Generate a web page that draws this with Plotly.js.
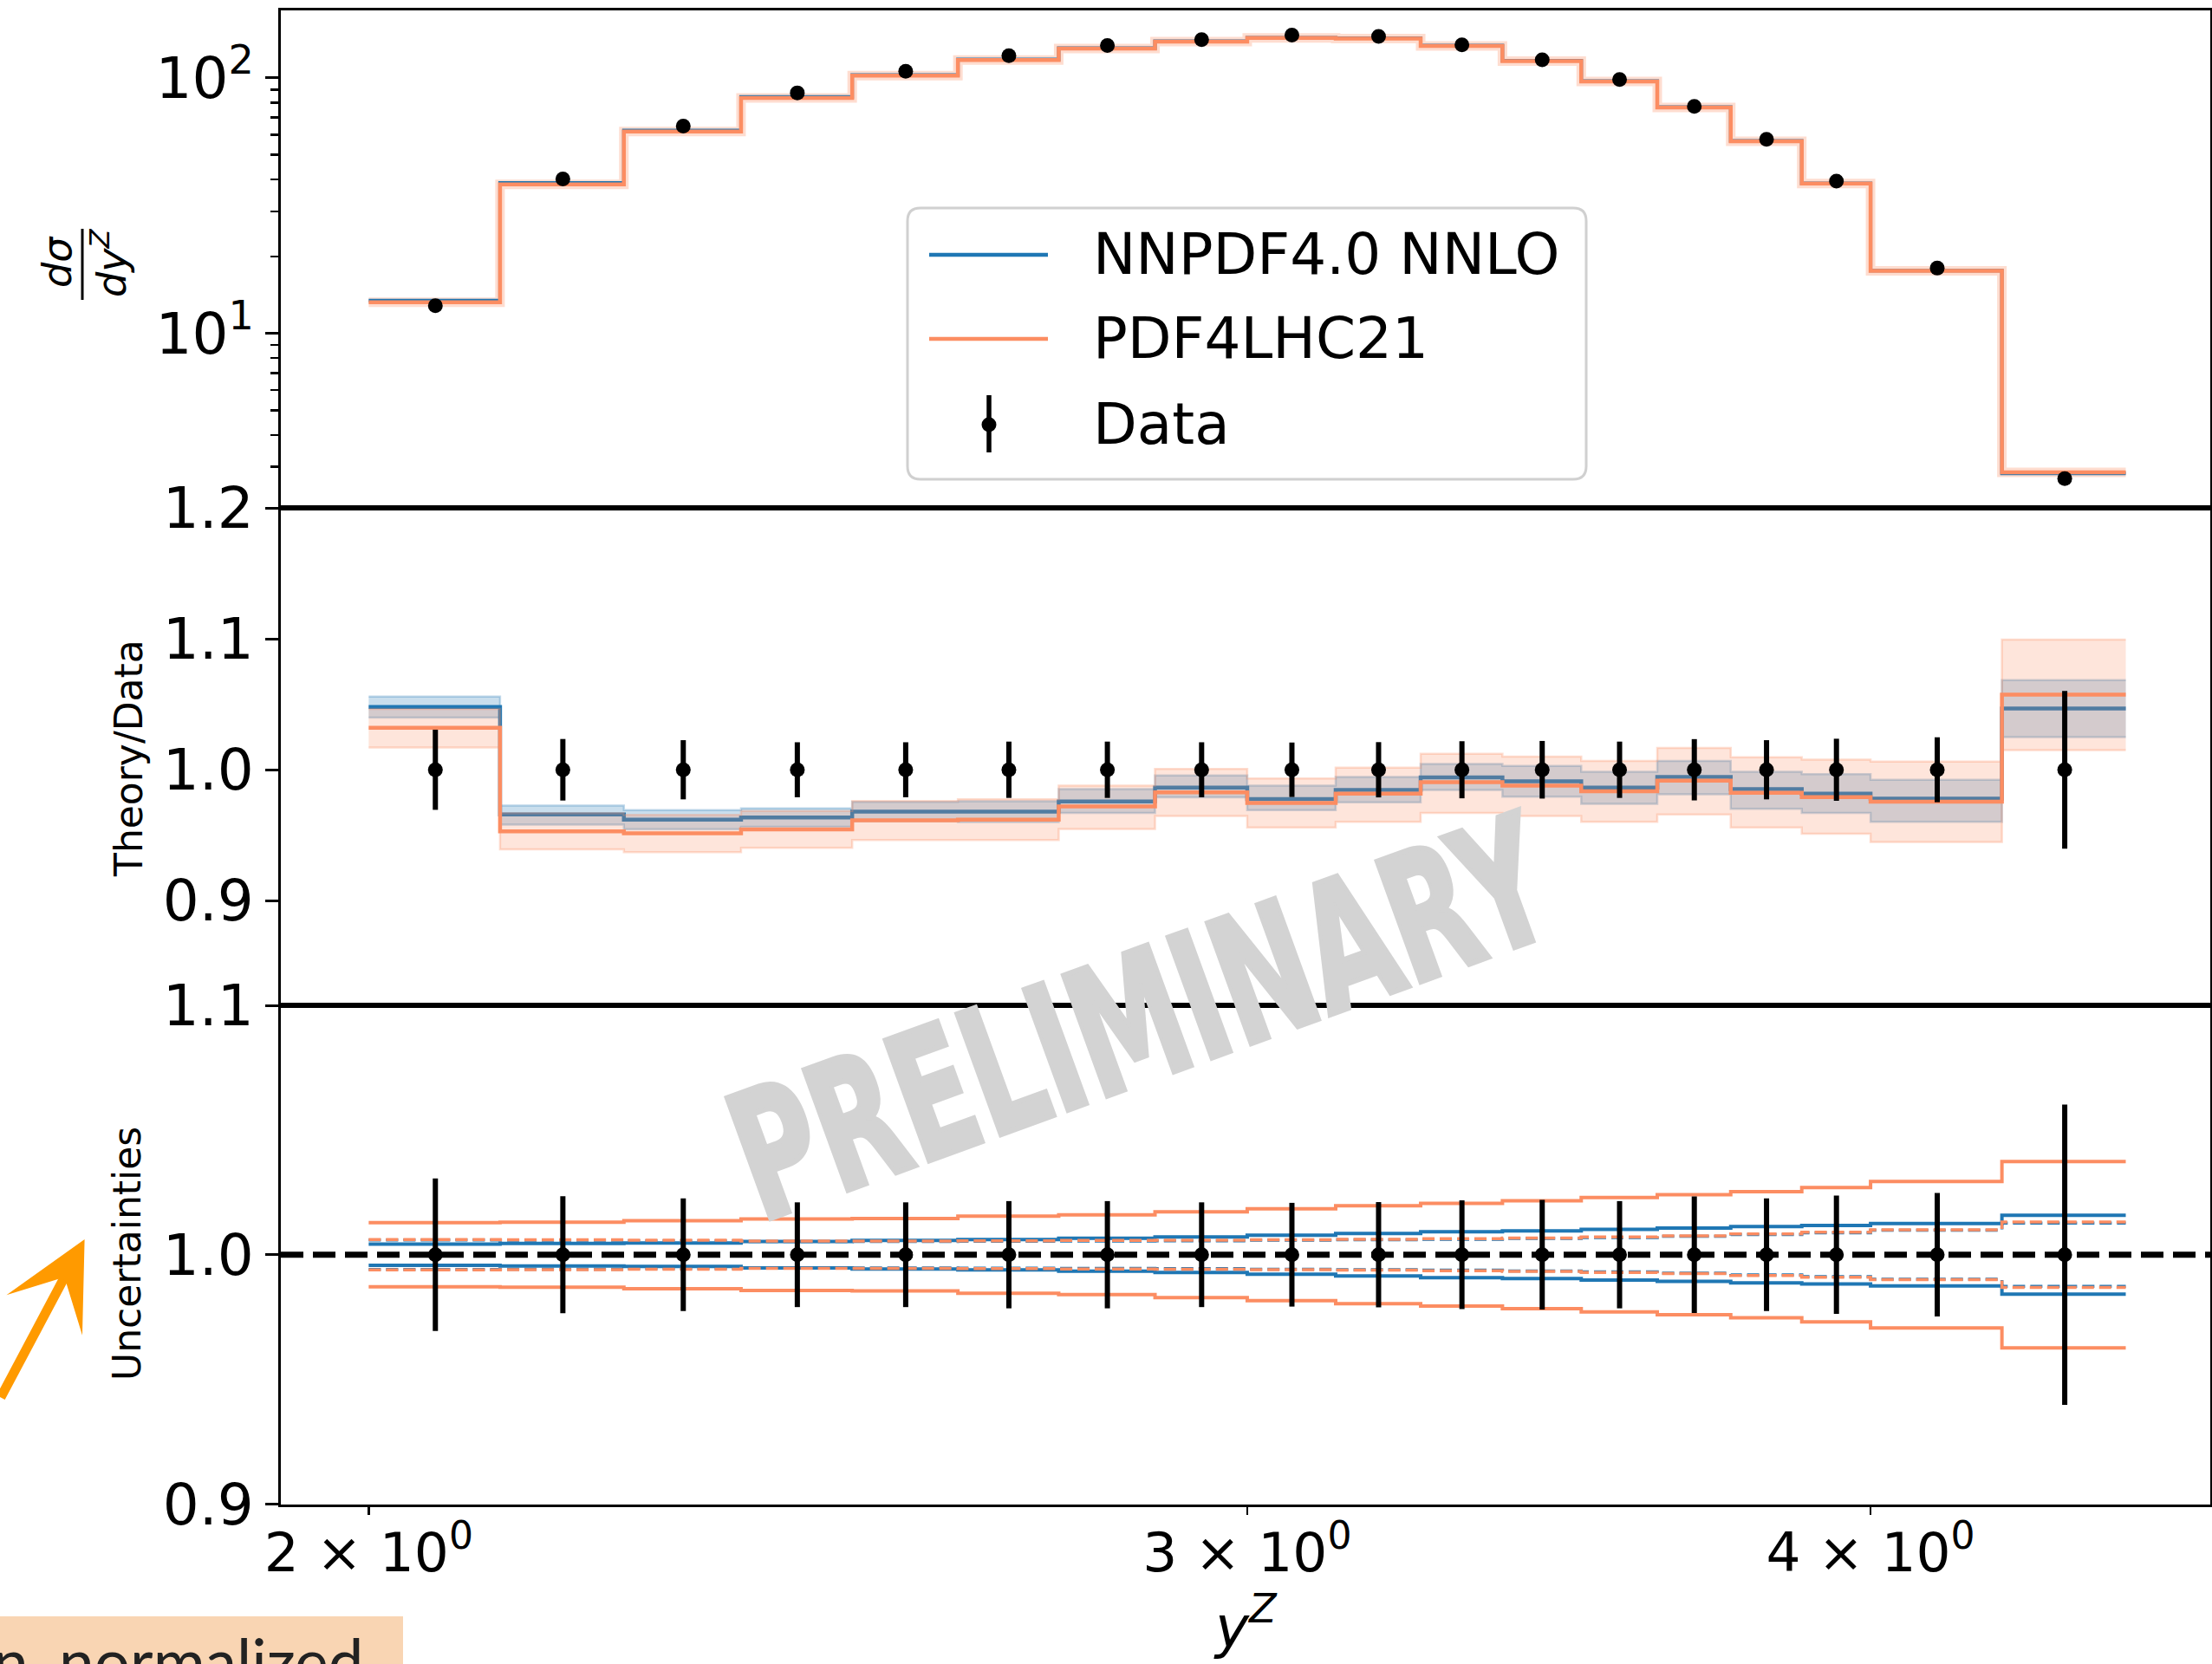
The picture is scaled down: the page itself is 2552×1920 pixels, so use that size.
<!DOCTYPE html>
<html>
<head>
<meta charset="utf-8">
<script src="https://cdn.plot.ly/plotly-3.0.1.min.js"></script>
<style>
  html, body { margin: 0; padding: 0; background: #fff; }
  #chart { width: 2552px; height: 1920px; }
</style>
</head>
<body>
<div id="chart"></div>
<script>
// ---------------- data ----------------
const binEdges   = [2.0, 2.125, 2.25, 2.375, 2.5, 2.625, 2.75, 2.875, 3.0, 3.125, 3.25, 3.375, 3.5, 3.625, 3.75, 3.875, 4.0, 4.25, 4.5];
const binCenters = [2.0625, 2.1875, 2.3125, 2.4375, 2.5625, 2.6875, 2.8125, 2.9375, 3.0625, 3.1875, 3.3125, 3.4375, 3.5625, 3.6875, 3.8125, 3.9375, 4.125, 4.375];

// top panel: dsigma/dy^Z
const dataXsec    = [12.82, 40.2, 64.8, 87.4, 106.1, 122.1, 134.0, 141.1, 147.0, 145.3, 134.8, 117.8, 98.5, 77.3, 57.5, 39.4, 18.0, 2.70];
const nnpdfXsec   = [13.43, 38.83, 62.33, 84.22, 102.7, 118.2, 130.8, 139.2, 143.7, 143.1, 134.0, 116.8, 97.16, 76.87, 56.65, 38.68, 17.60, 2.826];
const pdf4lhcXsec = [13.23, 38.31, 61.66, 83.41, 102.0, 117.4, 130.2, 138.7, 143.3, 142.6, 133.5, 116.4, 96.87, 76.66, 56.49, 38.58, 17.56, 2.855];

// middle panel: Theory/Data
const dataRatio  = [1, 1, 1, 1, 1, 1, 1, 1, 1, 1, 1, 1, 1, 1, 1, 1, 1, 1];
const dataRelErr = [0.0306, 0.0235, 0.0226, 0.0210, 0.0210, 0.0215, 0.0215, 0.0210, 0.0208, 0.0211, 0.0218, 0.0220, 0.0215, 0.0234, 0.0226, 0.0237, 0.0248, 0.0602];
const nnpdfRatio    = [1.0479, 0.9658, 0.9619, 0.9636, 0.9680, 0.9680, 0.9758, 0.9864, 0.9777, 0.9846, 0.9941, 0.9912, 0.9864, 0.9945, 0.9852, 0.9817, 0.9780, 1.0468];
const nnpdfRatioLo  = [1.0398, 0.9581, 0.9546, 0.9565, 0.9605, 0.9600, 0.9670, 0.9790, 0.9691, 0.9751, 0.9846, 0.9795, 0.9740, 0.9813, 0.9702, 0.9670, 0.9603, 1.0250];
const nnpdfRatioHi  = [1.0559, 0.9726, 0.9691, 0.9705, 0.9755, 0.9760, 0.9852, 0.9956, 0.9879, 0.9945, 1.0044, 1.0029, 0.9985, 1.0067, 0.9985, 0.9967, 0.9923, 1.0685];
const pdf4lhcRatio   = [1.0321, 0.9530, 0.9515, 0.9544, 0.9614, 0.9619, 0.9720, 0.9828, 0.9746, 0.9817, 0.9905, 0.9879, 0.9835, 0.9917, 0.9824, 0.9791, 0.9756, 1.0574];
const pdf4lhcRatioLo = [1.0170, 0.9393, 0.9371, 0.9404, 0.9464, 0.9464, 0.9548, 0.9647, 0.9559, 0.9603, 0.9670, 0.9647, 0.9603, 0.9658, 0.9559, 0.9511, 0.9449, 1.0150];
const pdf4lhcRatioHi = [1.0464, 0.9669, 0.9655, 0.9686, 0.9762, 0.9775, 0.9879, 1.0007, 0.9934, 1.0016, 1.0122, 1.0100, 1.0067, 1.0166, 1.0095, 1.0078, 1.0062, 1.0994];

// bottom panel: relative uncertainties
const nnpdfUnc       = [0.0043, 0.0045, 0.0047, 0.0053, 0.0057, 0.0061, 0.0066, 0.0071, 0.0078, 0.0085, 0.0092, 0.0096, 0.0102, 0.0107, 0.0113, 0.0117, 0.0125, 0.0158];
const pdf4lhcUnc     = [0.0129, 0.0130, 0.0136, 0.0143, 0.0145, 0.0155, 0.0160, 0.0172, 0.0184, 0.0196, 0.0206, 0.0216, 0.0229, 0.0241, 0.0253, 0.0269, 0.0294, 0.0374];
const pdf4lhcDashUnc = [0.0061, 0.0060, 0.0058, 0.0055, 0.0055, 0.0056, 0.0057, 0.0058, 0.0060, 0.0062, 0.0064, 0.0067, 0.0071, 0.0076, 0.0083, 0.0090, 0.0100, 0.0131];
const nnpdfDashUnc   = [0.0059, 0.0058, 0.0056, 0.0053, 0.0053, 0.0054, 0.0055, 0.0056, 0.0058, 0.0060, 0.0062, 0.0065, 0.0069, 0.0074, 0.0081, 0.0088, 0.0098, 0.0127];

// tick labels
const xTickVals = [2, 3, 4];
const xTickText = ['2 × 10<sup>0</sup>', '3 × 10<sup>0</sup>', '4 × 10<sup>0</sup>'];
const topTickVals = [10, 100];
const topTickText = ['10<sup>1</sup>', '10<sup>2</sup>'];
const topMinorVals = [3, 4, 5, 6, 7, 8, 9, 20, 30, 40, 50, 60, 70, 80, 90];
const midTickVals = [0.9, 1.0, 1.1, 1.2];
const botTickVals = [0.9, 1.0, 1.1];

const legendLabels = ['NNPDF4.0 NNLO', 'PDF4LHC21', 'Data'];

// ---------------- helpers ----------------
const W = 2552, H = 1920;
const px = x => x / W;
const py = y => 1 - y / H;
const stepY = arr => arr.concat([arr[arr.length - 1]]);
const BLUE = '#1f77b4', ORANGE = '#fc8d62';
const FONT = 'DejaVu Sans';

const plus = (arr) => arr.map(u => 1 + u);
const minus = (arr) => arr.map(u => 1 - u);

function stepLine(y, xa, ya, color, width, dash, extra) {
  return Object.assign({
    type: 'scatter', mode: 'lines', x: binEdges, y: stepY(y), xaxis: xa, yaxis: ya,
    line: {shape: 'hv', color: color, width: width, dash: dash || 'solid'},
    hoverinfo: 'skip', showlegend: false
  }, extra || {});
}

const traces = [];
// ---- top panel (x3, y3) ----
traces.push(stepLine(pdf4lhcXsec, 'x3', 'y3', 'rgba(252,141,98,0.30)', 11));
traces.push(stepLine(nnpdfXsec, 'x3', 'y3', BLUE, 4));
traces.push(stepLine(pdf4lhcXsec, 'x3', 'y3', ORANGE, 4.5));
traces.push({type: 'scatter', mode: 'markers', x: binCenters, y: dataXsec, xaxis: 'x3', yaxis: 'y3',
  marker: {color: '#000', size: 17}, hoverinfo: 'skip', showlegend: false});

// ---- middle panel (x2, y2) ----
traces.push(stepLine(nnpdfRatioLo, 'x2', 'y2', 'rgba(31,119,180,0.28)', 2.5));
traces.push(stepLine(nnpdfRatioHi, 'x2', 'y2', 'rgba(31,119,180,0.28)', 2.5, null, {fill: 'tonexty', fillcolor: 'rgba(31,119,180,0.24)'}));
traces.push(stepLine(nnpdfRatio, 'x2', 'y2', BLUE, 4.5));
traces.push(stepLine(pdf4lhcRatioLo, 'x2', 'y2', 'rgba(252,141,98,0.30)', 2.5));
traces.push(stepLine(pdf4lhcRatioHi, 'x2', 'y2', 'rgba(252,141,98,0.30)', 2.5, null, {fill: 'tonexty', fillcolor: 'rgba(252,141,98,0.23)'}));
traces.push(stepLine(pdf4lhcRatio, 'x2', 'y2', ORANGE, 4.5));
traces.push({type: 'scatter', mode: 'markers', x: binCenters, y: dataRatio, xaxis: 'x2', yaxis: 'y2',
  marker: {color: '#000', size: 17},
  error_y: {type: 'data', array: dataRelErr, visible: true, color: '#000', thickness: 6, width: 0},
  hoverinfo: 'skip', showlegend: false});

// ---- bottom panel (x, y) ----
traces.push(stepLine(plus(pdf4lhcUnc), 'x', 'y', ORANGE, 4));
traces.push(stepLine(minus(pdf4lhcUnc), 'x', 'y', ORANGE, 4));
traces.push(stepLine(plus(nnpdfUnc), 'x', 'y', BLUE, 4));
traces.push(stepLine(minus(nnpdfUnc), 'x', 'y', BLUE, 4));
traces.push(stepLine(plus(nnpdfDashUnc), 'x', 'y', BLUE, 3.5, '14px,6px'));
traces.push(stepLine(minus(nnpdfDashUnc), 'x', 'y', BLUE, 3.5, '14px,6px'));
traces.push(stepLine(plus(pdf4lhcDashUnc), 'x', 'y', ORANGE, 3.5, '14px,6px'));
traces.push(stepLine(minus(pdf4lhcDashUnc), 'x', 'y', ORANGE, 3.5, '14px,6px'));
traces.push({type: 'scatter', mode: 'markers', x: binCenters, y: dataRatio, xaxis: 'x', yaxis: 'y',
  marker: {color: '#000', size: 17},
  error_y: {type: 'data', array: dataRelErr, visible: true, color: '#000', thickness: 6, width: 0},
  hoverinfo: 'skip', showlegend: false});

// ---------------- layout ----------------
const frame = {showline: true, linecolor: '#000', linewidth: 3, mirror: true, showgrid: false, zeroline: false};
const tickFont = {family: FONT, size: 66, color: '#000'};
const xDomain = [px(324), px(2550)];
const xRange = [0.28342, 0.67015];

const layout = {
  width: W, height: H,
  margin: {l: 0, r: 0, t: 0, b: 0, pad: 0},
  paper_bgcolor: '#ffffff', plot_bgcolor: '#ffffff',
  showlegend: false,
  font: {family: FONT, color: '#000'},
  xaxis: Object.assign({}, frame, {type: 'log', range: xRange, domain: xDomain, anchor: 'y',
    tickmode: 'array', tickvals: xTickVals, ticktext: xTickText,
    ticks: 'outside', ticklen: 9, tickwidth: 2.5, tickcolor: '#000', ticklabelstandoff: -10,
    tickfont: {family: FONT, size: 63, color: '#000'}}),
  xaxis2: Object.assign({}, frame, {type: 'log', range: xRange, domain: xDomain, anchor: 'y2', matches: 'x',
    showticklabels: false, ticks: ''}),
  xaxis3: Object.assign({}, frame, {type: 'log', range: xRange, domain: xDomain, anchor: 'y3', matches: 'x',
    showticklabels: false, ticks: ''}),
  yaxis: Object.assign({}, frame, {domain: [py(1735.5), py(1160)], range: [0.9, 1.1], anchor: 'x',
    tickmode: 'array', tickvals: botTickVals, tickformat: '.1f',
    ticks: 'outside', ticklen: 15, tickwidth: 3, tickcolor: '#000', tickfont: tickFont}),
  yaxis2: Object.assign({}, frame, {domain: [py(1160), py(586)], range: [0.8201, 1.2], anchor: 'x2',
    tickmode: 'array', tickvals: midTickVals, tickformat: '.1f',
    ticks: 'outside', ticklen: 15, tickwidth: 3, tickcolor: '#000', tickfont: tickFont}),
  yaxis3: Object.assign({}, frame, {type: 'log', domain: [py(586), py(12)], range: [0.3166, 2.2643], anchor: 'x3',
    tickmode: 'array', tickvals: topTickVals, ticktext: topTickText,
    ticks: 'outside', ticklen: 15, tickwidth: 3, tickcolor: '#000', tickfont: tickFont,
    minor: {tickmode: 'array', tickvals: topMinorVals, ticks: 'outside', ticklen: 9, tickwidth: 2.5, tickcolor: '#000', showgrid: false}}),
  shapes: [],
  annotations: []
};

// dashed reference line at 1 in the uncertainty panel
layout.shapes.push({type: 'line', xref: 'paper', yref: 'y', x0: xDomain[0], x1: xDomain[1], y0: 1, y1: 1,
  line: {color: '#000', width: 7, dash: '26px,11px'}, layer: 'below'});

// ---- hand-drawn legend (matplotlib style) ----
function roundRect(x0, y0, x1, y1, r) {
  const X = v => px(v).toFixed(6), Y = v => py(v).toFixed(6);
  return 'M' + X(x0 + r) + ',' + Y(y0) + ' L' + X(x1 - r) + ',' + Y(y0) +
    ' Q' + X(x1) + ',' + Y(y0) + ' ' + X(x1) + ',' + Y(y0 + r) +
    ' L' + X(x1) + ',' + Y(y1 - r) +
    ' Q' + X(x1) + ',' + Y(y1) + ' ' + X(x1 - r) + ',' + Y(y1) +
    ' L' + X(x0 + r) + ',' + Y(y1) +
    ' Q' + X(x0) + ',' + Y(y1) + ' ' + X(x0) + ',' + Y(y1 - r) +
    ' L' + X(x0) + ',' + Y(y0 + r) +
    ' Q' + X(x0) + ',' + Y(y0) + ' ' + X(x0 + r) + ',' + Y(y0) + ' Z';
}
layout.shapes.push({type: 'path', xref: 'paper', yref: 'paper', path: roundRect(1047, 240, 1830, 553, 15),
  fillcolor: 'rgba(255,255,255,0.8)', line: {color: '#d0d0d0', width: 3}, layer: 'above'});
layout.shapes.push({type: 'line', xref: 'paper', yref: 'paper', x0: px(1072), x1: px(1209), y0: py(294), y1: py(294),
  line: {color: BLUE, width: 4.5}, layer: 'above'});
layout.shapes.push({type: 'line', xref: 'paper', yref: 'paper', x0: px(1072), x1: px(1209), y0: py(391), y1: py(391),
  line: {color: ORANGE, width: 4.5}, layer: 'above'});
layout.shapes.push({type: 'line', xref: 'paper', yref: 'paper', x0: px(1141), x1: px(1141), y0: py(456), y1: py(522),
  line: {color: '#000', width: 5.5}, layer: 'above'});
layout.shapes.push({type: 'circle', xref: 'paper', yref: 'paper', x0: px(1132.5), x1: px(1149.5), y0: py(481.5), y1: py(498.5),
  fillcolor: '#000', line: {color: '#000', width: 0}, layer: 'above'});
[294, 391, 490].forEach((yy, i) => {
  layout.annotations.push({xref: 'paper', yref: 'paper', x: px(1259), y: py(yy), xanchor: 'left', yanchor: 'middle',
    text: legendLabels[i], showarrow: false, font: {family: FONT, size: 66, color: '#000'}});
});

// ---- axis titles ----
layout.annotations.push({xref: 'paper', yref: 'paper', x: px(66), y: py(302), xanchor: 'center', yanchor: 'middle',
  text: '<i>dσ</i>', textangle: -90, showarrow: false, font: {family: FONT, size: 46, color: '#000'}});
layout.annotations.push({xref: 'paper', yref: 'paper', x: px(126), y: py(304), xanchor: 'center', yanchor: 'middle',
  text: '<i>dy</i><sup><i>Z</i></sup>', textangle: -90, showarrow: false, font: {family: FONT, size: 46, color: '#000'}});
layout.shapes.push({type: 'line', xref: 'paper', yref: 'paper', x0: px(95), x1: px(95), y0: py(264), y1: py(346),
  line: {color: '#000', width: 3}});
layout.annotations.push({xref: 'paper', yref: 'paper', x: px(148), y: py(875), xanchor: 'center', yanchor: 'middle',
  text: 'Theory/Data', textangle: -90, showarrow: false, font: {family: FONT, size: 44, color: '#000'}});
layout.annotations.push({xref: 'paper', yref: 'paper', x: px(146), y: py(1447), xanchor: 'center', yanchor: 'middle',
  text: 'Uncertainties', textangle: -90, showarrow: false, font: {family: FONT, size: 44, color: '#000'}});
layout.annotations.push({xref: 'paper', yref: 'paper', x: px(1437), y: py(1872), xanchor: 'center', yanchor: 'middle',
  text: '<i>y</i><sup><i>Z</i></sup>', showarrow: false, font: {family: FONT, size: 66, color: '#000'}});

// ---- watermark ----
layout.annotations.push({xref: 'paper', yref: 'paper', x: px(1316), y: py(1176), xanchor: 'center', yanchor: 'middle',
  text: 'PRELIMINARY', textangle: -20, showarrow: false,
  font: {family: FONT, size: 203, color: '#d3d3d3', weight: 'bold'}});

// ---- slide decorations visible in the screenshot ----
layout.annotations.push({xref: 'paper', yref: 'paper', x: px(97.6), y: py(1430), ax: -128, ay: 184,
  axref: 'pixel', ayref: 'pixel', text: '', showarrow: true, arrowhead: 3, arrowsize: 1.5, arrowwidth: 11,
  arrowcolor: '#ff9a00', standoff: 0});
layout.shapes.push({type: 'rect', xref: 'paper', yref: 'paper', x0: px(-5), x1: px(465), y0: py(1925), y1: py(1865),
  fillcolor: '#f9d5b3', line: {width: 0}, layer: 'above'});
layout.annotations.push({xref: 'paper', yref: 'paper', x: px(422), y: py(1870), xanchor: 'right', yanchor: 'top',
  text: 'n, normalized', showarrow: false, font: {family: 'Lato', size: 73, color: '#222'}});

Plotly.newPlot('chart', traces, layout, {staticPlot: true, displayModeBar: false}).then(gd => {
  gd.querySelectorAll('text.annotation-text').forEach(el => {
    if (el.textContent === 'PRELIMINARY') {
      el.setAttribute('textLength', '984');
      el.setAttribute('lengthAdjust', 'spacingAndGlyphs');
      el.style.stroke = '#d3d3d3';
      el.style.strokeWidth = '6px';
      el.style.strokeLinejoin = 'miter';
    }
  });
});
</script>
</body>
</html>
